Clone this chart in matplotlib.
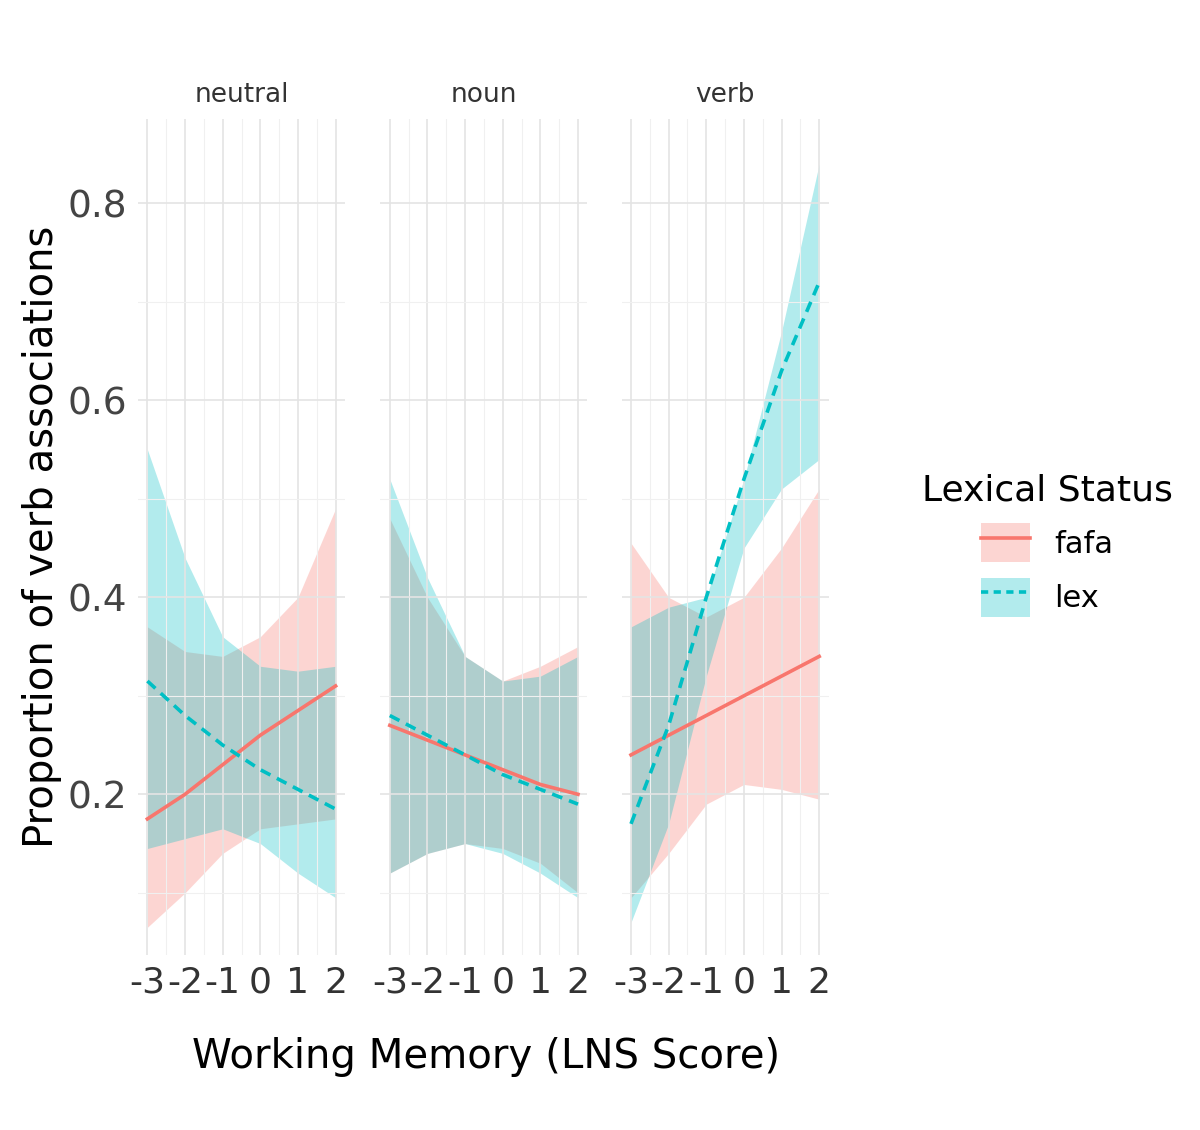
import matplotlib
matplotlib.use("Agg")
import matplotlib.pyplot as plt
import numpy as np
from matplotlib.lines import Line2D
from matplotlib.patches import Patch

x = [-3, -2, -1, 0, 1, 2]
panels = ["neutral", "noun", "verb"]
fafa_fit = {"neutral": [0.175, 0.20, 0.23, 0.26, 0.285, 0.31],
            "noun": [0.27, 0.255, 0.24, 0.225, 0.21, 0.20],
            "verb": [0.24, 0.26, 0.28, 0.30, 0.32, 0.34]}
fafa_hi = {"neutral": [0.37, 0.345, 0.34, 0.36, 0.40, 0.49],
           "noun": [0.48, 0.40, 0.34, 0.315, 0.33, 0.35],
           "verb": [0.455, 0.40, 0.38, 0.40, 0.45, 0.51]}
fafa_lo = {"neutral": [0.065, 0.10, 0.14, 0.165, 0.17, 0.175],
           "noun": [0.12, 0.14, 0.15, 0.145, 0.13, 0.10],
           "verb": [0.095, 0.14, 0.19, 0.21, 0.205, 0.195]}
lex_fit = {"neutral": [0.315, 0.28, 0.25, 0.225, 0.205, 0.185],
           "noun": [0.28, 0.26, 0.24, 0.22, 0.205, 0.19],
           "verb": [0.17, 0.27, 0.40, 0.52, 0.63, 0.72]}
lex_hi = {"neutral": [0.55, 0.44, 0.36, 0.33, 0.325, 0.33],
          "noun": [0.52, 0.42, 0.34, 0.315, 0.32, 0.34],
          "verb": [0.37, 0.39, 0.40, 0.52, 0.67, 0.84]}
lex_lo = {"neutral": [0.145, 0.155, 0.165, 0.15, 0.12, 0.095],
          "noun": [0.12, 0.14, 0.15, 0.14, 0.12, 0.095],
          "verb": [0.07, 0.17, 0.32, 0.45, 0.51, 0.54]}
yticks = [0.2, 0.4, 0.6, 0.8]
xticks = [-3, -2, -1, 0, 1, 2]

RED = "#F8766D"
CYAN = "#00BFC4"
fig = plt.figure(figsize=(12, 11.3), dpi=100)
lefts = [0.115, 0.317, 0.518]
for i, p in enumerate(panels):
    ax = fig.add_axes([lefts[i], 0.155, 0.1725, 0.74])
    ax.fill_between(x, fafa_lo[p], fafa_hi[p], color=RED, alpha=0.3, lw=0)
    ax.fill_between(x, lex_lo[p], lex_hi[p], color=CYAN, alpha=0.3, lw=0)
    ax.plot(x, fafa_fit[p], color=RED, lw=2.6)
    ax.plot(x, lex_fit[p], color=CYAN, lw=2.6, ls=(0, (3, 2)))
    ax.set_xlim(-3.25, 2.25)
    ax.set_ylim(0.037, 0.886)
    ax.set_xticks(xticks)
    ax.set_xticklabels([str(t) for t in xticks], fontsize=26, color="#333333")
    ax.set_xticks(np.arange(-2.5, 2.5, 1.0), minor=True)
    ax.set_yticks(yticks)
    ax.set_yticks([0.1, 0.3, 0.5, 0.7], minor=True)
    if i == 0:
        ax.set_yticklabels([f"{t:.1f}" for t in yticks], fontsize=27, color="#444444")
        ax.set_ylabel("Proportion of verb associations", fontsize=29, labelpad=4)
    else:
        ax.set_yticklabels([])
    ax.grid(True, which="major", color="#e4e4e4", lw=1.2)
    ax.grid(True, which="minor", color="#f0f0f0", lw=0.8)
    ax.tick_params(length=0, which="both", pad=8)
    for s in ax.spines.values():
        s.set_visible(False)
    ax.set_title(p, fontsize=19, color="#333333", pad=12)
fig.text(0.405, 0.055, "Working Memory (LNS Score)", fontsize=29, ha="center")
handles = [(Patch(color=RED, alpha=0.3, lw=0), Line2D([], [], color=RED, lw=2.6)),
           (Patch(color=CYAN, alpha=0.3, lw=0), Line2D([], [], color=CYAN, lw=2.6, ls=(0, (2, 1.5))))]
fig.legend(handles, ["fafa", "lex"], title="Lexical Status", loc="upper left",
           bbox_to_anchor=(0.745, 0.605), frameon=False, fontsize=22, title_fontsize=26,
           handlelength=1.6, handleheight=1.6)
fig.savefig("out.png")
